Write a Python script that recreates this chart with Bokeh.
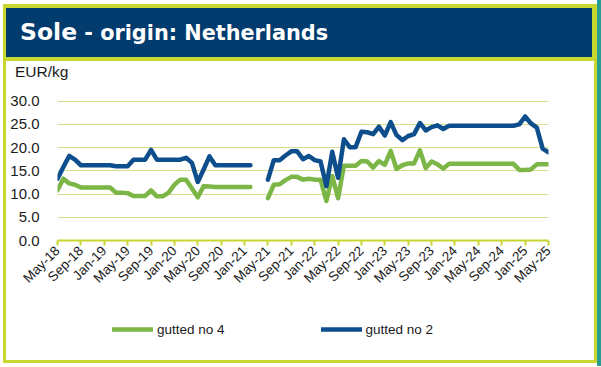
import numpy as np
from bokeh.plotting import figure
from bokeh.models import Range1d, FixedTicker, Legend, LegendItem, Div, ColumnDataSource
from bokeh.layouts import column, row
from bokeh.embed import file_html
from bokeh.resources import INLINE

# ---- data (monthly, May-18 .. May-25; None = no quote) ----
tick_labels = ["May-18", "Sep-18", "Jan-19", "May-19", "Sep-19", "Jan-20", "May-20",
               "Sep-20", "Jan-21", "May-21", "Sep-21", "Jan-22", "May-22", "Sep-22",
               "Jan-23", "May-23", "Sep-23", "Jan-24", "May-24", "Sep-24", "Jan-25", "May-25"]
month_index = list(range(85))

gutted_no_4 = [
    10.8, 13.3, 12.3, 12.0, 11.4, 11.4, 11.4, 11.4, 11.4, 11.4,
    10.3, 10.3, 10.2, 9.6, 9.6, 9.6, 10.8, 9.5, 9.5, 10.3,
    12.0, 13.1, 13.1, 11.2, 9.3, 11.7, 11.6, 11.5, 11.5, 11.5,
    11.5, 11.5, 11.5, 11.5, None, None, 9.1, 12.0, 12.1, 13.0,
    13.7, 13.7, 13.1, 13.3, 13.1, 13.1, 8.5, 13.9, 9.1, 16.1,
    16.1, 16.1, 17.1, 17.0, 15.7, 17.1, 16.3, 19.3, 15.4, 16.2,
    16.6, 16.6, 19.4, 15.6, 17.0, 16.4, 15.5, 16.5, 16.5, 16.5,
    16.5, 16.5, 16.5, 16.5, 16.5, 16.5, 16.5, 16.5, 16.5, 15.2,
    15.2, 15.3, 16.4, 16.4, 16.4]

gutted_no_2 = [
    13.3, 15.8, 18.2, 17.4, 16.2, 16.2, 16.2, 16.2, 16.2, 16.2,
    16.0, 16.0, 16.0, 17.4, 17.4, 17.4, 19.5, 17.4, 17.4, 17.4,
    17.4, 17.4, 17.8, 16.7, 12.6, 15.3, 18.1, 16.2, 16.2, 16.2,
    16.2, 16.2, 16.2, 16.2, None, None, 13.1, 17.3, 17.3, 18.3,
    19.2, 19.2, 17.5, 18.2, 17.3, 17.0, 11.7, 19.1, 13.5, 21.8,
    20.1, 20.1, 23.4, 23.3, 22.9, 24.5, 22.6, 25.5, 22.7, 21.6,
    22.5, 22.9, 25.3, 23.7, 24.4, 24.8, 24.0, 24.7, 24.7, 24.7,
    24.7, 24.7, 24.7, 24.7, 24.7, 24.7, 24.7, 24.7, 24.7, 25.0,
    26.7, 25.2, 24.3, 19.8, 19.0]

y_ticks = [0, 5, 10, 15, 20, 25, 30]

# ---- styling ----
NAVY = "#023c6f"
LIME = "#c8d630"
TEAL = "#2a9d92"
GRID = "#d3de8c"
GREEN = "#7bb646"
BLUE = "#0e4e8c"
TXT = "#1a1a1a"
FONT = "Liberation Sans"
WHITE_BG = {"background-color": "white"}

src = ColumnDataSource(dict(
    x=np.array(month_index, dtype=float),
    g4=np.array(gutted_no_4, dtype=float),
    g2=np.array(gutted_no_2, dtype=float),
))

# ---- unit label row ----
unit_div = Div(
    text=('<div style="font-family:\'Liberation Sans\';font-size:15.5px;color:#1a1a1a;'
          'padding-left:9px;line-height:22px;white-space:nowrap">EUR/kg</div>'),
    width=588, height=22, styles=WHITE_BG)
unit_div.margin = (4, 3, 0, 3)

# ---- main chart ----
p = figure(width=588, height=225, output_backend="svg", toolbar_location=None,
           x_range=Range1d(0, 84), y_range=Range1d(0, 31),
           min_border_left=51, min_border_right=46, min_border_top=13, min_border_bottom=68,
           styles=WHITE_BG)
p.background_fill_color = "white"
p.border_fill_color = "white"
p.outline_line_color = None
p.margin = (0, 3, 0, 3)

p.line("x", "g4", source=src, line_color=GREEN, line_width=4.5,
       line_cap="round", line_join="round")
p.line("x", "g2", source=src, line_color=BLUE, line_width=4.5,
       line_cap="round", line_join="round")

xa = p.xaxis[0]
xa.ticker = FixedTicker(ticks=[i * 4 for i in range(len(tick_labels))])
xa.major_label_overrides = {i * 4: lab for i, lab in enumerate(tick_labels)}
xa.major_label_orientation = np.pi / 4
xa.axis_line_color = LIME
xa.axis_line_width = 2
xa.major_tick_line_color = LIME
xa.major_tick_line_width = 2
xa.major_tick_in = 0
xa.major_tick_out = 5
xa.minor_tick_line_color = None
xa.major_label_text_font = FONT
xa.major_label_text_font_size = "13.5px"
xa.major_label_text_color = TXT
xa.major_label_standoff = 3

ya = p.yaxis[0]
ya.ticker = FixedTicker(ticks=y_ticks)
ya.major_label_overrides = {v: f"{v:.1f}" for v in y_ticks}
ya.axis_line_color = None
ya.major_tick_line_color = None
ya.minor_tick_line_color = None
ya.major_label_text_font = FONT
ya.major_label_text_font_size = "15px"
ya.major_label_text_color = TXT
ya.major_label_standoff = 12

p.xgrid.grid_line_color = None
p.ygrid.grid_line_color = GRID
p.ygrid.grid_line_width = 1

# ---- legend strip (own small plot; its ranges hold no data, only the legend shows) ----
lf = figure(width=588, height=52, output_backend="svg", toolbar_location=None,
            x_range=Range1d(-30, -20), y_range=Range1d(0, 1),
            x_axis_location=None, y_axis_location=None,
            min_border_left=51, min_border_right=46, min_border_top=0, min_border_bottom=0,
            styles=WHITE_BG)
lf.margin = (0, 3, 3, 3)
lf.outline_line_color = None
lf.background_fill_color = "white"
lf.border_fill_color = "white"
for g in lf.grid:
    g.visible = False
lg4 = lf.line("x", "g4", source=src, line_color=GREEN, line_width=4.5,
              line_cap="round", line_join="round")
lg2 = lf.line("x", "g2", source=src, line_color=BLUE, line_width=4.5,
              line_cap="round", line_join="round")
legend = Legend(items=[LegendItem(label="gutted no 4", renderers=[lg4]),
                       LegendItem(label="gutted no 2", renderers=[lg2])],
                orientation="horizontal", location=(55, 23),
                glyph_width=41, glyph_height=16, label_standoff=4, spacing=96,
                padding=0, margin=0, border_line_color=None,
                background_fill_alpha=0, label_height=16,
                label_text_font=FONT, label_text_font_size="13.5px",
                label_text_color=TXT)
lf.add_layout(legend)

# ---- title bar ----
title_div = Div(
    text=('<div style="font-family:\'DejaVu Sans\';font-weight:bold;color:white;'
          'padding-left:14px;line-height:49px;white-space:nowrap">'
          '<span style="font-size:23.5px">Sole</span>'
          '<span style="font-size:20.8px"> - origin: Netherlands</span></div>'),
    width=586, height=49,
    styles={"background-color": NAVY})
title_div.margin = (4, 5, 0, 3)

panel = column(title_div, unit_div, p, lf, spacing=0, styles={"background-color": LIME})
panel.margin = (4, 0, 3, 3)

edge = Div(text="", width=4, height=366, styles={"background-color": TEAL})
edge.margin = (0, 0, 0, 0)

layout = row(panel, edge, spacing=0)

open("out.html", "w").write(file_html(layout, INLINE))
